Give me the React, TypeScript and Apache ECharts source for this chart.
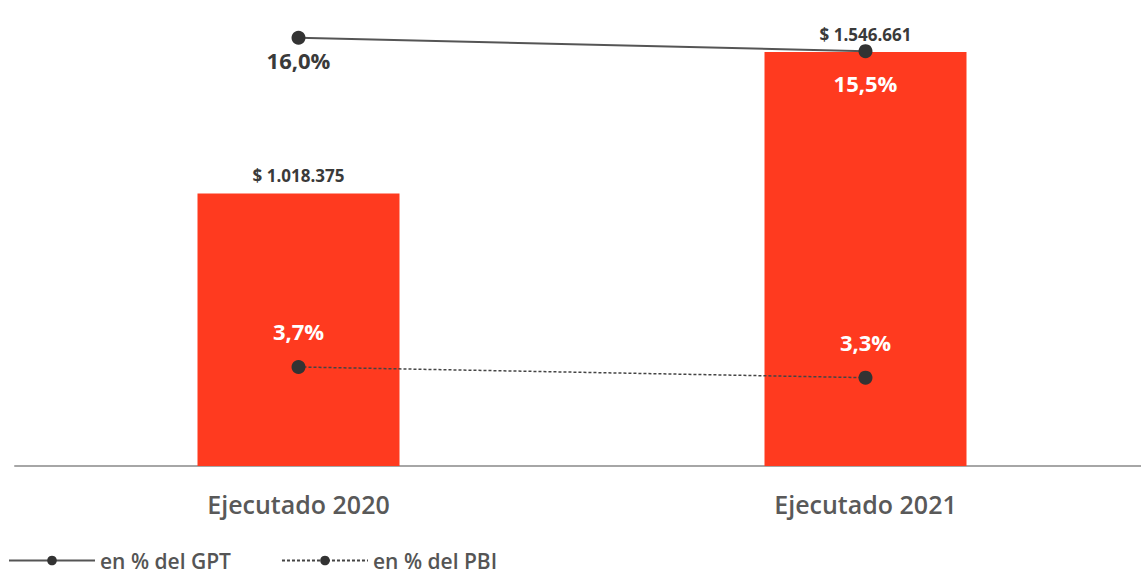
import React, { useEffect, useRef } from "react";
import * as echarts from "echarts";

const categories = ["Ejecutado 2020", "Ejecutado 2021"];
const montos = [1018375, 1546661];
const gptPct = [16.0, 15.5];
const pbiPct = [3.7, 3.3];
const legendNames = ["en % del GPT", "en % del PBI"];

const fmtMonto = (v: number) =>
  "$ " + v.toString().replace(/\B(?=(\d{3})+(?!\d))/g, ".");
const fmtPct = (v: number) => v.toFixed(1).replace(".", ",") + "%";

export default function App() {
  const ref = useRef<HTMLDivElement>(null);
  useEffect(() => {
    if (!ref.current) return;
    const chart = echarts.init(ref.current, undefined, { renderer: "svg" });
    const font = "'Open Sans', 'Noto Sans', sans-serif";
    chart.setOption({
      animation: false,
      textStyle: { fontFamily: font },
      grid: { left: 15, right: 11, top: 11, bottom: 108 },
      legend: {
        left: 3,
        bottom: -2,
        itemWidth: 86,
        itemHeight: 12,
        itemGap: 50,
        textStyle: { fontSize: 21, fontWeight: 600, color: "#555", fontFamily: font },
        data: legendNames,
      },
      xAxis: {
        type: "category",
        data: categories,
        axisTick: { show: false },
        axisLine: { lineStyle: { color: "#a6a6a6", width: 2 } },
        axisLabel: {
          fontSize: 25,
          fontWeight: 600,
          color: "#595959",
          margin: 25,
          fontFamily: font,
        },
      },
      yAxis: [
        { type: "value", min: 0, max: 1700000, show: false },
        { type: "value", min: 0, max: 17, show: false },
      ],
      series: [
        {
          type: "bar",
          data: montos,
          barWidth: 202,
          itemStyle: { color: "#FF3A1F" },
          label: {
            show: true,
            position: "top",
            distance: 9,
            formatter: (p: any) => fmtMonto(p.value),
            fontSize: 17,
            fontWeight: 700,
            color: "#3a3a3a",
            fontFamily: font,
          },
          z: 1,
        },
        {
          name: legendNames[0],
          type: "line",
          yAxisIndex: 1,
          data: [
            {
              value: gptPct[0],
              label: { position: "bottom", distance: 4, color: "#3a3a3a" },
            },
            {
              value: gptPct[1],
              label: { position: "bottom", distance: 14, color: "#fff" },
            },
          ],
          symbol: "circle",
          symbolSize: 14,
          itemStyle: { color: "#333" },
          lineStyle: { color: "#555", width: 2 },
          label: {
            show: true,
            formatter: (p: any) => fmtPct(p.value),
            fontSize: 22,
            fontWeight: 700,
            fontFamily: font,
          },
          z: 3,
        },
        {
          name: legendNames[1],
          type: "line",
          yAxisIndex: 1,
          data: pbiPct,
          symbol: "circle",
          symbolSize: 14,
          itemStyle: { color: "#333" },
          lineStyle: { color: "#444", width: 1.5, type: [3, 2] },
          label: {
            show: true,
            position: "top",
            distance: 18,
            formatter: (p: any) => fmtPct(p.value),
            fontSize: 22,
            fontWeight: 700,
            color: "#fff",
            fontFamily: font,
          },
          z: 3,
        },
      ],
    });
    return () => chart.dispose();
  }, []);
  return (
    <div
      style={{
        position: "fixed",
        left: 0,
        top: 0,
        width: 1141,
        height: 574,
        overflow: "hidden",
        background: "#fff",
      }}
    >
      <div ref={ref} style={{ width: 1160, height: 574 }} />
    </div>
  );
}
